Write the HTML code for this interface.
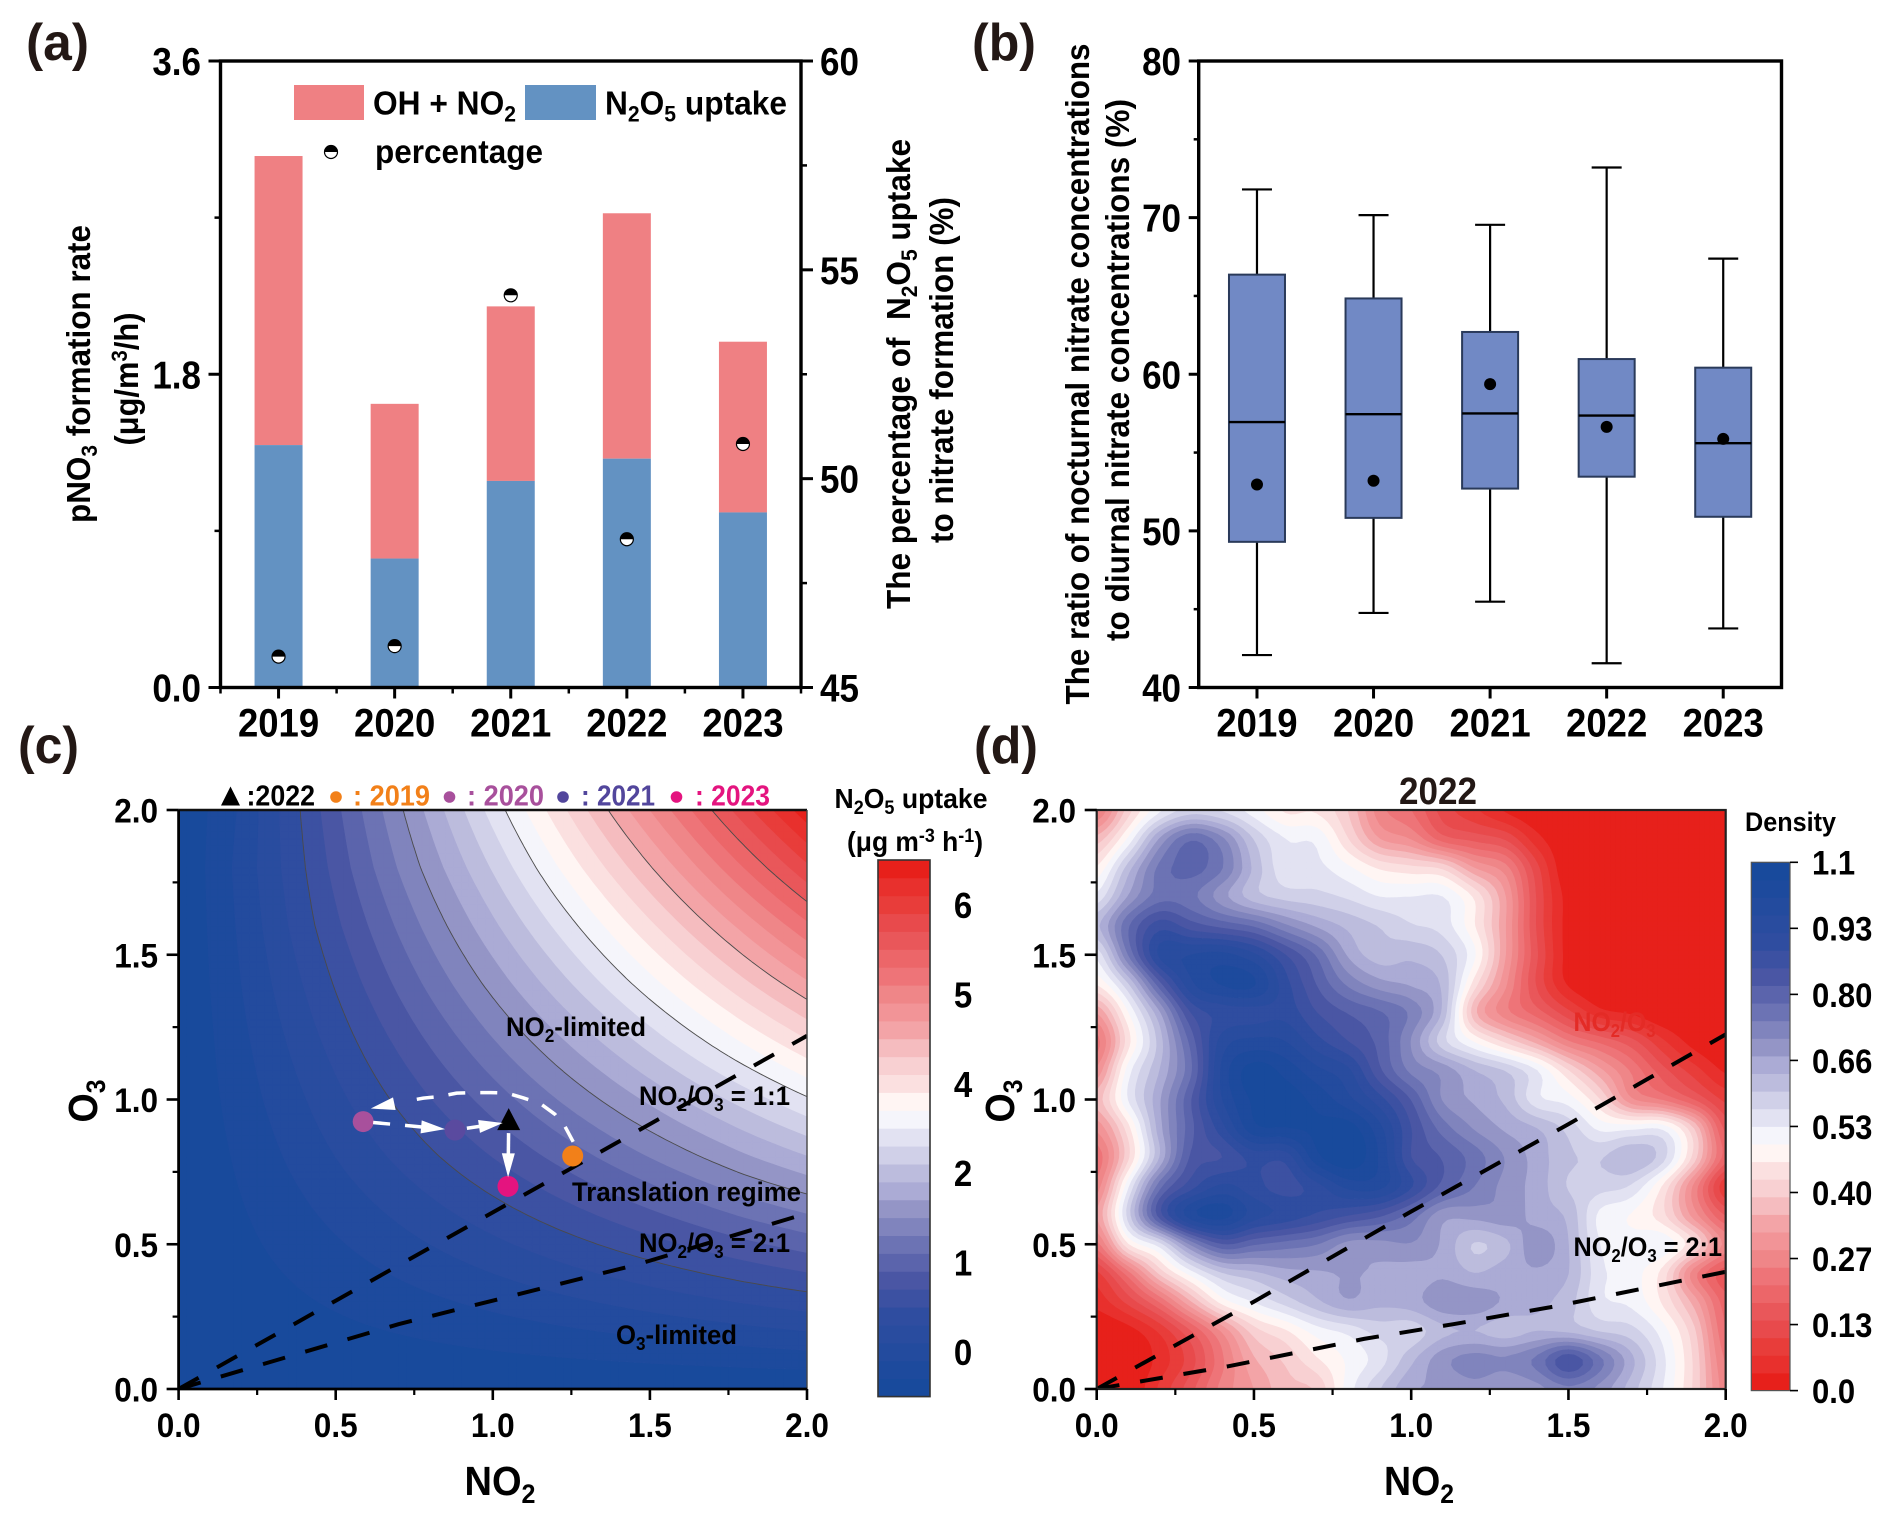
<!DOCTYPE html>
<html lang="en">
<head>
<meta charset="utf-8">
<title>Nitrate formation figure</title>
<style>
  html,body{margin:0;padding:0;background:#fff;}
  svg{display:block;font-family:"Liberation Sans",Arial,sans-serif;font-weight:700;}
</style>
</head>
<body>
<svg id="figure" xmlns="http://www.w3.org/2000/svg" width="1892" height="1523" viewBox="0 0 1892 1523">
  <defs>
    <clipPath id="clip-c"><rect x="178.6" y="810" width="628.4" height="579"/></clipPath>
    <clipPath id="clip-d"><rect x="1096.7" y="810" width="629" height="579"/></clipPath>
  </defs>
  <rect x="0" y="0" width="1892" height="1523" fill="#fff"/>

  <g id="panel-a">
    <g id="a-marks"></g>
    <g id="a-axes"></g>
    <text x="26" y="60" font-size="52" fill="#231815" textLength="63" lengthAdjust="spacingAndGlyphs">(a)</text>
    <rect x="294" y="85" width="70" height="35" fill="#ef8083"/>
    <text x="373" y="114.5" font-size="33" textLength="143" lengthAdjust="spacingAndGlyphs">OH + NO<tspan dy="7" font-size="22">2</tspan></text>
    <rect x="525" y="85" width="71" height="35" fill="#6392c2"/>
    <text x="605" y="114.5" font-size="33" textLength="182" lengthAdjust="spacingAndGlyphs">N<tspan dy="7" font-size="22">2</tspan><tspan dy="-7">O</tspan><tspan dy="7" font-size="22">5</tspan><tspan dy="-7"> uptake</tspan></text>
    <circle cx="331" cy="152" r="6.5" fill="#fff" stroke="#000" stroke-width="1.2"/>
    <path d="M324.5 152A6.5 6.5 0 0 1 337.5 152Z" fill="#000"/>
    <text x="375" y="163" font-size="33" textLength="168" lengthAdjust="spacingAndGlyphs">percentage</text>
    <text transform="translate(90,374) rotate(-90)" text-anchor="middle" font-size="33" textLength="298" lengthAdjust="spacingAndGlyphs">pNO<tspan dy="7" font-size="22">3</tspan><tspan dy="-7"> formation rate</tspan></text>
    <text transform="translate(138,379) rotate(-90)" text-anchor="middle" font-size="33" textLength="133" lengthAdjust="spacingAndGlyphs">(μg/m<tspan dy="-11" font-size="22">3</tspan><tspan dy="11">/h)</tspan></text>
    <text transform="translate(910,374) rotate(-90)" text-anchor="middle" font-size="33" textLength="470" lengthAdjust="spacingAndGlyphs">The percentage of &#160;N<tspan dy="7" font-size="22">2</tspan><tspan dy="-7">O</tspan><tspan dy="7" font-size="22">5</tspan><tspan dy="-7"> uptake</tspan></text>
    <text transform="translate(953,370) rotate(-90)" text-anchor="middle" font-size="33" textLength="346" lengthAdjust="spacingAndGlyphs">to nitrate formation (%)</text>
  </g>

  <g id="panel-b">
    <g id="b-marks"></g>
    <g id="b-axes"></g>
    <text x="972" y="60" font-size="52" fill="#231815" textLength="64" lengthAdjust="spacingAndGlyphs">(b)</text>
    <text transform="translate(1089,374) rotate(-90)" text-anchor="middle" font-size="33" textLength="661" lengthAdjust="spacingAndGlyphs">The ratio of nocturnal nitrate concentrations</text>
    <text transform="translate(1129,370) rotate(-90)" text-anchor="middle" font-size="33" textLength="542" lengthAdjust="spacingAndGlyphs">to diurnal nitrate concentrations (%)</text>
  </g>

  <g id="panel-c">
    <g id="c-heat" clip-path="url(#clip-c)"></g>
    <g id="c-lines" clip-path="url(#clip-c)"></g>
    <g id="c-axes"></g>
    <g id="c-cbar"></g>
    <g id="c-points"></g>
    <text x="18" y="763" font-size="52" fill="#231815" textLength="61" lengthAdjust="spacingAndGlyphs">(c)</text>
    <polygon points="221,805.5 240,805.5 230.5,786.5" fill="#000"/>
    <text x="246.5" y="805.5" font-size="29" textLength="68.5" lengthAdjust="spacingAndGlyphs">:2022</text>
    <circle cx="336" cy="797" r="5.8" fill="#f28019"/>
    <text x="353" y="805.5" font-size="29" fill="#f28019" textLength="77" lengthAdjust="spacingAndGlyphs">: 2019</text>
    <circle cx="449.5" cy="797" r="5.8" fill="#a8509c"/>
    <text x="467" y="805.5" font-size="29" fill="#a8509c" textLength="77" lengthAdjust="spacingAndGlyphs">: 2020</text>
    <circle cx="563" cy="797" r="5.8" fill="#52469c"/>
    <text x="581" y="805.5" font-size="29" fill="#52469c" textLength="74" lengthAdjust="spacingAndGlyphs">: 2021</text>
    <circle cx="676.5" cy="797" r="5.8" fill="#e4147f"/>
    <text x="695" y="805.5" font-size="29" fill="#e4147f" textLength="75" lengthAdjust="spacingAndGlyphs">: 2023</text>
    <text x="506" y="1036" font-size="27" textLength="140" lengthAdjust="spacingAndGlyphs">NO<tspan dy="6" font-size="18">2</tspan><tspan dy="-6">-limited</tspan></text>
    <text x="639" y="1105" font-size="27" textLength="151" lengthAdjust="spacingAndGlyphs">NO<tspan dy="6" font-size="18">2</tspan><tspan dy="-6">/O</tspan><tspan dy="6" font-size="18">3</tspan><tspan dy="-6"> = 1:1</tspan></text>
    <text x="572" y="1201" font-size="27" textLength="229" lengthAdjust="spacingAndGlyphs">Translation regime</text>
    <text x="639" y="1252" font-size="27" textLength="151" lengthAdjust="spacingAndGlyphs">NO<tspan dy="6" font-size="18">2</tspan><tspan dy="-6">/O</tspan><tspan dy="6" font-size="18">3</tspan><tspan dy="-6"> = 2:1</tspan></text>
    <text x="616" y="1344" font-size="27" textLength="121" lengthAdjust="spacingAndGlyphs">O<tspan dy="6" font-size="18">3</tspan><tspan dy="-6">-limited</tspan></text>
    <text x="911" y="808" text-anchor="middle" font-size="28" textLength="153" lengthAdjust="spacingAndGlyphs">N<tspan dy="6" font-size="19">2</tspan><tspan dy="-6">O</tspan><tspan dy="6" font-size="19">5</tspan><tspan dy="-6"> uptake</tspan></text>
    <text x="915" y="851" text-anchor="middle" font-size="28" textLength="136" lengthAdjust="spacingAndGlyphs">(μg m<tspan dy="-9" font-size="19">-3</tspan><tspan dy="9"> h</tspan><tspan dy="-9" font-size="19">-1</tspan><tspan dy="9">)</tspan></text>
    <text x="500" y="1495" text-anchor="middle" font-size="41" textLength="71" lengthAdjust="spacingAndGlyphs">NO<tspan dy="8" font-size="27">2</tspan></text>
    <text transform="translate(97,1101) rotate(-90)" text-anchor="middle" font-size="41" textLength="43" lengthAdjust="spacingAndGlyphs">O<tspan dy="8" font-size="27">3</tspan></text>
  </g>

  <g id="panel-d">
    <g id="d-heat" clip-path="url(#clip-d)"></g>
    <text x="1573.5" y="1031" font-size="27" fill="#e42b26" textLength="82" lengthAdjust="spacingAndGlyphs">NO<tspan dy="6" font-size="18">2</tspan><tspan dy="-6">/O</tspan><tspan dy="6" font-size="18">3</tspan></text>
    <g id="d-lines" clip-path="url(#clip-d)"></g>
    <g id="d-axes"></g>
    <g id="d-cbar"></g>
    <text x="974" y="763" font-size="52" fill="#231815" textLength="64" lengthAdjust="spacingAndGlyphs">(d)</text>
    <text x="1438" y="804" text-anchor="middle" font-size="38" fill="#231815" textLength="78" lengthAdjust="spacingAndGlyphs">2022</text>
    <text x="1573.5" y="1256" font-size="27" textLength="148.5" lengthAdjust="spacingAndGlyphs">NO<tspan dy="6" font-size="18">2</tspan><tspan dy="-6">/O</tspan><tspan dy="6" font-size="18">3</tspan><tspan dy="-6"> = 2:1</tspan></text>
    <text x="1745" y="831" font-size="27" textLength="91" lengthAdjust="spacingAndGlyphs">Density</text>
    <text x="1419" y="1495" text-anchor="middle" font-size="41" textLength="70" lengthAdjust="spacingAndGlyphs">NO<tspan dy="8" font-size="27">2</tspan></text>
    <text transform="translate(1014,1101) rotate(-90)" text-anchor="middle" font-size="41" textLength="43" lengthAdjust="spacingAndGlyphs">O<tspan dy="8" font-size="27">3</tspan></text>
  </g>
</svg>

<script>
/* ---------- panel a data ---------- */
var years = ['2019','2020','2021','2022','2023'];
var n2o5Uptake = [1.393,0.741,1.187,1.315,1.006];
var ohNo2 = [1.661,0.889,1.003,1.410,0.981];
var percentage = [45.74,45.99,54.39,48.55,50.83];
var aLeftTicks = [0,1.8,3.6];
var aLeftMinor = [0.9,2.7];
var aRightTicks = [45,50,55,60];
var aRightMinor = [47.5,52.5,57.5];

/* ---------- panel b data ---------- */
var boxHigh = [71.8,70.16,69.54,73.2,67.38];
var boxQ3 = [66.36,64.84,62.7,60.97,60.42];
var boxMedian = [56.95,57.45,57.5,57.36,55.6];
var boxQ1 = [49.3,50.83,52.7,53.46,50.9];
var boxLow = [42.07,44.76,45.48,41.55,43.77];
var boxMean = [52.96,53.2,59.37,56.64,55.87];
var bTicks = [40,50,60,70,80];
var bMinor = [45,55,65,75];

/* ---------- panels c / d shared ---------- */
var no2Ticks = [0,0.5,1,1.5,2];
var no2TickLabels = ['0.0','0.5','1.0','1.5','2.0'];
var minorTicks = [0.25,0.75,1.25,1.75];
var ratio1X = [0,0.5,1,1.5,2];
var ratio1Y = [0,0.305,0.61,0.915,1.22];
var ratio2X = [0,0.7,1.46,2];
var ratio2Y = [0,0.224,0.43,0.607];
var ratio1DY = [0,0.302,0.613,0.915,1.225];
var ratio2DX = [0,0.416,0.7,0.85,1.134,1.455,2];
var ratio2DY = [0,0.078,0.14,0.173,0.224,0.285,0.405];

/* colour bands, low end of the colorbar in panel c to high end */
var bandColors = ['#184a9c','#1d4a9d','#234b9e','#294c9f','#2f4da0','#3c51a2','#4a56a4','#5b64ac','#6c73b4','#8084bd','#9495c6','#ababd5','#bcbcdd','#d0d0e8','#e2e2f2','#f5f5fb','#fff5f3','#fbe0e0','#f8d0d2','#f5bcbf','#f3a4a7','#f29497','#ef8688','#ee7478','#ec6669','#e9575a','#e84a4c','#e83d3a','#e8302d','#e7201b'];

/* panel c: N2O5 uptake read on the colorbar scale; rows O3 = 2.0 down to 0.0, columns NO2 = 0.0 to 2.0 */
var uptakeGrid = [
[-0.5,-0.07,0.54,1.15,1.76,2.38,2.99,3.6,4.2,4.82,5.43],
[-0.5,-0.03,0.49,1.04,1.58,2.12,2.67,3.21,3.75,4.3,4.85],
[-0.5,-0.06,0.42,0.89,1.37,1.85,2.33,2.81,3.29,3.77,4.25],
[-0.5,-0.1,0.31,0.73,1.15,1.57,1.99,2.41,2.83,3.25,3.66],
[-0.5,-0.15,0.2,0.56,0.92,1.28,1.64,2,2.36,2.72,3.07],
[-0.5,-0.2,0.09,0.39,0.69,0.99,1.29,1.59,1.89,2.18,2.47],
[-0.5,-0.26,-0.02,0.22,0.46,0.7,0.94,1.18,1.42,1.66,1.88],
[-0.5,-0.32,-0.14,0.04,0.22,0.4,0.58,0.76,0.94,1.12,1.28],
[-0.5,-0.38,-0.26,-0.14,-0.02,0.1,0.22,0.34,0.46,0.58,0.69],
[-0.5,-0.44,-0.38,-0.32,-0.26,-0.2,-0.14,-0.08,-0.02,0.04,0.1],
[-0.5,-0.5,-0.5,-0.5,-0.5,-0.5,-0.5,-0.5,-0.5,-0.5,-0.5]
];
var uptakeContours = [0.5,1.5,2.5,3.5,4.5];
var uptakeBarTicks = [0,1,2,3,4,5];
var uptakeBarLabels = ['0','1','2','4','5','6'];

/* panel d: density; rows O3 = 2.0 down to 0.0 by 0.1, columns NO2 = 0.0 to 2.0 by 0.1 */
var densityGrid = [
[.25,.42,.54,.60,.58,.53,.47,.47,.40,.27,.22,.13,.08,.03,0,0,0,0,0,0,0],
[.38,.52,.70,.80,.74,.62,.55,.54,.44,.33,.29,.20,.17,.14,.05,0,0,0,0,0,0],
[.48,.64,.78,.82,.77,.65,.56,.56,.52,.47,.45,.43,.33,.27,.12,0,0,0,0,0,0],
[.56,.70,.79,.78,.71,.64,.61,.60,.58,.55,.55,.55,.47,.33,.14,.02,0,0,0,0,0],
[.65,.80,.90,.86,.83,.80,.74,.69,.65,.62,.59,.57,.48,.33,.14,.02,0,0,0,0,0],
[.56,.77,.96,.99,1.0,.96,.88,.80,.69,.64,.65,.62,.52,.33,.15,.02,0,0,0,0,0],
[.48,.62,.83,.98,1.03,1.03,.93,.84,.76,.71,.69,.65,.46,.30,.14,.03,0,0,0,0,0],
[.33,.51,.69,.88,.93,.94,.94,.88,.84,.81,.76,.65,.38,.27,.20,.12,.05,.03,0,0,0],
[.24,.46,.64,.82,.97,1.0,.99,.93,.88,.83,.73,.60,.51,.43,.35,.26,.21,.16,.08,.02,0],
[.30,.53,.66,.80,1.0,1.08,1.05,1.0,.96,.85,.76,.72,.66,.62,.55,.44,.34,.25,.16,.09,.03],
[.38,.55,.69,.84,.99,1.07,1.08,1.05,1.0,.93,.84,.73,.69,.65,.56,.53,.44,.30,.25,.18,.10],
[.30,.46,.68,.83,.94,1.05,1.06,1.07,1.08,1.0,.88,.79,.73,.69,.66,.61,.54,.54,.54,.40,.17],
[.23,.43,.66,.85,.88,.93,.93,1.05,1.09,1.02,.88,.84,.79,.73,.68,.63,.62,.655,.60,.42,.20],
[.27,.54,.79,.90,.96,.93,.90,.94,1.0,1.0,.92,.83,.77,.72,.68,.62,.60,.58,.47,.28,.08],
[.33,.60,.86,1.01,1.04,.97,.94,.91,.88,.85,.79,.71,.71,.72,.68,.65,.54,.51,.45,.31,.18],
[.24,.47,.57,.74,.84,.81,.79,.77,.72,.72,.73,.69,.62,.65,.72,.66,.55,.53,.54,.44,.28],
[.10,.24,.41,.53,.62,.65,.68,.69,.70,.69,.68,.69,.66,.68,.69,.66,.56,.53,.46,.27,.16],
[.05,.12,.22,.36,.49,.55,.60,.65,.69,.67,.68,.72,.72,.69,.67,.64,.56,.54,.47,.35,.20],
[0,.02,.08,.18,.30,.42,.47,.53,.56,.60,.60,.65,.66,.64,.66,.65,.62,.60,.53,.41,.22],
[0,0,.05,.13,.25,.36,.41,.47,.52,.57,.65,.72,.75,.74,.78,.87,.78,.67,.56,.43,.25],
[0,0,.08,.17,.27,.33,.39,.41,.53,.62,.69,.70,.72,.70,.72,.76,.72,.64,.55,.43,.27]
];
var densityBarTicks = [0,0.1375,0.275,0.4125,0.55,0.6875,0.825,0.9625,1.1];
var densityBarLabels = ['0.0','0.13','0.27','0.40','0.53','0.66','0.80','0.93','1.1'];

/* panel c year points */
var pointYears = ['2019','2020','2021','2022','2023'];
var pointNo2 = [1.2543,0.5875,0.8797,1.0506,1.0483];
var pointO3 = [0.805,0.9237,0.8946,0.922,0.7];
var pointColors = ['#f28019','#a8509c','#5a4a9f','#000000','#e4147f'];
var curveNo2 = [1.256,1.23,1.198,1.15,1.096,1.045,0.993,0.938,0.885,0.83,0.779,0.72];
var curveO3 = [0.854,0.906,0.949,0.987,1.006,1.022,1.024,1.024,1.022,1.01,1.005,0.993];

var SVGNS = 'http://www.w3.org/2000/svg';

function make(parent, tag, attrs) {
  var el = document.createElementNS(SVGNS, tag);
  for (var k in attrs) { el.setAttribute(k, attrs[k]); }
  parent.appendChild(el);
  return el;
}
function linear(d0, d1, r0, r1) {
  return function (v) { return r0 + (v - d0) / (d1 - d0) * (r1 - r0); };
}
function addTick(g, x1, y1, x2, y2, w) {
  var t = make(g, 'line', {x1: x1, y1: y1, x2: x2, y2: y2, stroke: '#000', 'stroke-width': w});
  
  
  return t;
}
function addLabel(g, x, yc, str, size, anchor) {
  var t = make(g, 'text', {x: x, y: yc + size * 0.4, 'font-size': size, 'text-anchor': anchor});
  t.textContent = str;
  var natural = t.getComputedTextLength();
  t.setAttribute('font-size', size * 1.1);
  t.setAttribute('textLength', natural);
  t.setAttribute('lengthAdjust', 'spacingAndGlyphs');
  
  
  return t;
}
function addFrame(g, x, y, w, h, sw) {
  var r = make(g, 'rect', {x: x, y: y, width: w, height: h, fill: 'none', stroke: '#000', 'stroke-width': sw});
  
  
  return r;
}

/* ---------- panel a ---------- */
(function () {
  var L = 220.5, R = 801, T = 61, B = 687.5;
  var step = (R - L) / years.length;
  function cx(i) { return L + (i + 0.5) * step; }
  var yLeft = linear(0, 3.6, B, T);
  var yRight = linear(45, 60, B, T);
  var marks = document.getElementById('a-marks');
  var axes = document.getElementById('a-axes');
  var barW = 48;
  years.forEach(function (yr, i) {
    var top = n2o5Uptake[i] + ohNo2[i];
    var pink = make(marks, 'rect', {x: cx(i) - barW / 2, y: yLeft(top), width: barW, height: yLeft(n2o5Uptake[i]) - yLeft(top), fill: '#ef8083'});
    
    
    var blue = make(marks, 'rect', {x: cx(i) - barW / 2, y: yLeft(n2o5Uptake[i]), width: barW, height: B - yLeft(n2o5Uptake[i]), fill: '#6392c2'});
    
    
  });
  years.forEach(function (yr, i) {
    var py = yRight(percentage[i]), r = 6.5;
    var c = make(marks, 'circle', {cx: cx(i), cy: py, r: r, fill: '#fff', stroke: '#000', 'stroke-width': 1.2});
    
    
    var h = make(marks, 'path', {d: 'M' + (cx(i) - r) + ' ' + py + 'A' + r + ' ' + r + ' 0 0 1 ' + (cx(i) + r) + ' ' + py + 'Z', fill: '#000'});
    
    
  });
  addFrame(axes, L, T, R - L, B - T, 3.4);
  aLeftTicks.forEach(function (v) {
    addTick(axes, L - 12, yLeft(v), L, yLeft(v), 3);
    addLabel(axes, 201, yLeft(v), v.toFixed(1), 35, 'end');
  });
  aLeftMinor.forEach(function (v) { addTick(axes, L - 6, yLeft(v), L, yLeft(v), 2.5); });
  aRightTicks.forEach(function (v) {
    addTick(axes, R, yRight(v), R + 12, yRight(v), 3);
    addLabel(axes, 820, yRight(v), String(v), 35, 'start');
  });
  aRightMinor.forEach(function (v) { addTick(axes, R, yRight(v), R + 6, yRight(v), 2.5); });
  years.forEach(function (yr, i) {
    addTick(axes, cx(i), B, cx(i), B + 11, 3);
    addLabel(axes, cx(i), 722, yr, 36.5, 'middle');
  });
  for (var k = 0; k <= years.length; k++) { addTick(axes, L + k * step, B, L + k * step, B + 6, 2.5); }
})();

/* ---------- panel b ---------- */
(function () {
  var L = 1198.7, R = 1781.5, T = 61, B = 687.5;
  var step = (R - L) / years.length;
  function cx(i) { return L + (i + 0.5) * step; }
  var y = linear(40, 80, B, T);
  var marks = document.getElementById('b-marks');
  var axes = document.getElementById('b-axes');
  years.forEach(function (yr, i) {
    var x = cx(i);
    var w = make(marks, 'line', {x1: x, y1: y(boxHigh[i]), x2: x, y2: y(boxLow[i]), stroke: '#000', 'stroke-width': 2.2});
    
    
    var capH = make(marks, 'line', {x1: x - 15, y1: y(boxHigh[i]), x2: x + 15, y2: y(boxHigh[i]), stroke: '#000', 'stroke-width': 2.2});
    
    
    var capL = make(marks, 'line', {x1: x - 15, y1: y(boxLow[i]), x2: x + 15, y2: y(boxLow[i]), stroke: '#000', 'stroke-width': 2.2});
    
    
    var box = make(marks, 'rect', {x: x - 28, y: y(boxQ3[i]), width: 56, height: y(boxQ1[i]) - y(boxQ3[i]), fill: '#7189c5', stroke: '#2a3a5a', 'stroke-width': 2});
    
    
    var med = make(marks, 'line', {x1: x - 28, y1: y(boxMedian[i]), x2: x + 28, y2: y(boxMedian[i]), stroke: '#000', 'stroke-width': 2.4});
    
    
    var mean = make(marks, 'circle', {cx: x, cy: y(boxMean[i]), r: 6, fill: '#000'});
    
    
  });
  addFrame(axes, L, T, R - L, B - T, 3.4);
  bTicks.forEach(function (v) {
    addTick(axes, L - 10, y(v), L, y(v), 3);
    addLabel(axes, 1181, y(v), String(v), 35, 'end');
  });
  bMinor.forEach(function (v) { addTick(axes, L - 5, y(v), L, y(v), 2.5); });
  years.forEach(function (yr, i) {
    addTick(axes, cx(i), B, cx(i), B + 11, 3);
    addLabel(axes, cx(i), 722, yr, 36.5, 'middle');
  });
})();

/* ---------- contour machinery ---------- */
function clipPoly(p, lv, above) {
  var out = [];
  for (var k = 0; k < p.length; k++) {
    var a = p[k], b = p[(k + 1) % p.length];
    var ina = above ? a.v >= lv : a.v <= lv;
    var inb = above ? b.v >= lv : b.v <= lv;
    if (ina) { out.push(a); }
    if (ina !== inb) {
      var t = (lv - a.v) / (b.v - a.v);
      out.push({x: a.x + t * (b.x - a.x), y: a.y + t * (b.y - a.y), v: lv});
    }
  }
  return out;
}
function cubic(a, b, c, d, t) {
  return b + 0.5 * t * (c - a + t * (2 * a - 5 * b + 4 * c - d + t * (3 * (b - c) + d - a)));
}
/* bilinear lookup for smooth=false, Catmull-Rom lookup for smooth=true */
function sampler(grid, up, smooth) {
  var rows = grid.length - 1, cols = grid[0].length - 1;
  function at(j, i) {
    return grid[Math.max(0, Math.min(rows, j))][Math.max(0, Math.min(cols, i))];
  }
  return function (fi, fj) {
    var gx = fi / up, gy = fj / up;
    var i = Math.min(Math.floor(gx), cols - 1), j = Math.min(Math.floor(gy), rows - 1);
    var u = gx - i, w = gy - j;
    if (!smooth) {
      return (at(j, i) * (1 - u) + at(j, i + 1) * u) * (1 - w) + (at(j + 1, i) * (1 - u) + at(j + 1, i + 1) * u) * w;
    }
    var r = [];
    for (var m = -1; m <= 2; m++) {
      r.push(cubic(at(j + m, i - 1), at(j + m, i), at(j + m, i + 1), at(j + m, i + 2), u));
    }
    return cubic(r[0], r[1], r[2], r[3], w);
  };
}
function polyToPath(poly, sx, sy) {
  var s = '';
  for (var k = 0; k < poly.length; k++) {
    s += (k ? 'L' : 'M') + sx(poly[k].x).toFixed(1) + ' ' + sy(poly[k].y).toFixed(1);
  }
  return s + 'Z';
}
function bandPaths(grid, up, smooth, v0, v1, nBands, sx, sy) {
  var rows = (grid.length - 1) * up, cols = (grid[0].length - 1) * up;
  var val = sampler(grid, up, smooth);
  var step = (v1 - v0) / nBands;
  var paths = [];
  for (var b = 0; b < nBands; b++) { paths.push(''); }
  function bandOf(v) { return Math.max(0, Math.min(nBands - 1, Math.floor((v - v0) / step))); }
  for (var j = 0; j < rows; j++) {
    for (var i = 0; i < cols; i++) {
      var q = [
        {x: i / cols, y: j / rows, v: val(i, j)},
        {x: (i + 1) / cols, y: j / rows, v: val(i + 1, j)},
        {x: (i + 1) / cols, y: (j + 1) / rows, v: val(i + 1, j + 1)},
        {x: i / cols, y: (j + 1) / rows, v: val(i, j + 1)}
      ];
      var lo = Infinity, hi = -Infinity;
      q.forEach(function (c) { lo = Math.min(lo, c.v); hi = Math.max(hi, c.v); });
      var b0 = bandOf(lo), b1 = bandOf(hi);
      for (var bb = b0; bb <= b1; bb++) {
        var poly = q;
        if (b0 !== b1) {
          if (bb > 0) { poly = clipPoly(poly, v0 + bb * step, true); }
          if (poly.length && bb < nBands - 1) { poly = clipPoly(poly, v0 + (bb + 1) * step, false); }
        }
        if (poly.length > 2) { paths[bb] += polyToPath(poly, sx, sy); }
      }
    }
  }
  return paths;
}
function contourPath(grid, up, level, sx, sy) {
  var rows = (grid.length - 1) * up, cols = (grid[0].length - 1) * up;
  var val = sampler(grid, up, false);
  var d = '';
  function tri(a, b, c) {
    var pts = [];
    [[a, b], [b, c], [c, a]].forEach(function (e) {
      var p = e[0], r = e[1];
      if ((p.v < level) !== (r.v < level)) {
        var t = (level - p.v) / (r.v - p.v);
        pts.push({x: p.x + t * (r.x - p.x), y: p.y + t * (r.y - p.y)});
      }
    });
    if (pts.length === 2) {
      d += 'M' + sx(pts[0].x).toFixed(1) + ' ' + sy(pts[0].y).toFixed(1) + 'L' + sx(pts[1].x).toFixed(1) + ' ' + sy(pts[1].y).toFixed(1);
    }
  }
  for (var j = 0; j < rows; j++) {
    for (var i = 0; i < cols; i++) {
      var A = {x: i / cols, y: j / rows, v: val(i, j)};
      var B = {x: (i + 1) / cols, y: j / rows, v: val(i + 1, j)};
      var C = {x: (i + 1) / cols, y: (j + 1) / rows, v: val(i + 1, j + 1)};
      var D = {x: i / cols, y: (j + 1) / rows, v: val(i, j + 1)};
      tri(A, B, C);
      tri(A, C, D);
    }
  }
  return d;
}
function drawDashed(g, xs, ys, sx, sy, name) {
  var d = '';
  xs.forEach(function (x, i) { d += (i ? 'L' : 'M') + sx(x).toFixed(1) + ' ' + sy(ys[i]).toFixed(1); });
  var p = make(g, 'path', {d: d, fill: 'none', stroke: '#000', 'stroke-width': 4, 'stroke-dasharray': '23 21'});
  
  
}
function drawSquareAxes(axes, L, R, T, B, sx, sy, yRight) {
  no2Ticks.forEach(function (v, i) {
    addTick(axes, sx(v), B, sx(v), B + 11, 2.6);
    addLabel(axes, sx(v), 1424.5, no2TickLabels[i], 31.5, 'middle');
    addTick(axes, L - 12, sy(v), L, sy(v), 2.6);
    addLabel(axes, yRight, sy(v), no2TickLabels[i], 31.5, 'end');
  });
  minorTicks.forEach(function (v) {
    addTick(axes, sx(v), B, sx(v), B + 6, 2.2);
    addTick(axes, L - 6, sy(v), L, sy(v), 2.2);
  });
}

/* ---------- panel c ---------- */
(function () {
  var L = 178.6, R = 807, T = 810, B = 1389;
  var sx = linear(0, 2, L, R), sy = linear(0, 2, B, T);
  var fx = function (f) { return L + f * (R - L); };
  var fy = function (f) { return T + f * (B - T); };
  var heat = document.getElementById('c-heat');
  var paths = bandPaths(uptakeGrid, 8, false, -0.5, 5.5, 30, fx, fy);
  paths.forEach(function (d, b) {
    var p = make(heat, 'path', {d: d, fill: bandColors[b], stroke: bandColors[b], 'stroke-width': 0.6});
    
    
  });
  uptakeContours.forEach(function (lv) {
    var c = make(heat, 'path', {d: contourPath(uptakeGrid, 8, lv, fx, fy), fill: 'none', stroke: '#4a4a4a', 'stroke-width': 0.9});
    
    
  });
  var lines = document.getElementById('c-lines');
  drawDashed(lines, ratio1X, ratio1Y, sx, sy, 'ratio-line-1-1');
  drawDashed(lines, ratio2X, ratio2Y, sx, sy, 'ratio-line-2-1');

  var axes = document.getElementById('c-axes');
  var top = make(axes, 'line', {x1: L, y1: T, x2: R, y2: T, stroke: '#111', 'stroke-width': 2.4});
  
  
  var right = make(axes, 'line', {x1: R, y1: T, x2: R, y2: B, stroke: '#444', 'stroke-width': 1.4});
  
  
  var left = make(axes, 'line', {x1: L, y1: T, x2: L, y2: B + 1.5, stroke: '#000', 'stroke-width': 2.8});
  
  
  var bottom = make(axes, 'line', {x1: L, y1: B, x2: R, y2: B, stroke: '#000', 'stroke-width': 2.8});
  
  
  drawSquareAxes(axes, L, R, T, B, sx, sy, 158);

  /* colour bar */
  var bar = document.getElementById('c-cbar');
  var barX = 878, barW = 52, barTop = 860, barBottom = 1396.6;
  var by = linear(-0.5, 5.5, barBottom, barTop);
  bandColors.forEach(function (col, b) {
    var v = -0.5 + b * 0.2;
    var r = make(bar, 'rect', {x: barX, y: by(v + 0.2), width: barW, height: by(v) - by(v + 0.2) + 0.4, fill: col});
    
    
  });
  var bf = make(bar, 'rect', {x: barX, y: barTop, width: barW, height: barBottom - barTop, fill: 'none', stroke: '#333', 'stroke-width': 1.6});
  
  
  uptakeBarTicks.forEach(function (v, i) {
    addLabel(bar, 963, by(v), uptakeBarLabels[i], 33, 'middle');
  });

  /* year points and arrows */
  var pts = document.getElementById('c-points');
  function head(tipX, tipY, fromX, fromY, len, wid) {
    var dx = tipX - fromX, dy = tipY - fromY, m = Math.sqrt(dx * dx + dy * dy);
    var ux = dx / m, uy = dy / m;
    var bx = tipX - ux * len, by2 = tipY - uy * len;
    var p = make(pts, 'polygon', {points: tipX + ',' + tipY + ' ' + (bx - uy * wid / 2) + ',' + (by2 + ux * wid / 2) + ' ' + (bx + uy * wid / 2) + ',' + (by2 - ux * wid / 2), fill: '#fff'});
    
    
  }
  function arrow(a, b, gap0, gap1, dashed) {
    var x0 = sx(pointNo2[a]), y0 = sy(pointO3[a]), x1 = sx(pointNo2[b]), y1 = sy(pointO3[b]);
    var dx = x1 - x0, dy = y1 - y0, m = Math.sqrt(dx * dx + dy * dy), ux = dx / m, uy = dy / m;
    var sX = x0 + ux * gap0, sY = y0 + uy * gap0, tX = x1 - ux * gap1, tY = y1 - uy * gap1;
    var l = make(pts, 'line', {x1: sX, y1: sY, x2: tX - ux * 20, y2: tY - uy * 20, stroke: '#fff', 'stroke-width': 3.5});
    if (dashed) { l.setAttribute('stroke-dasharray', '17 15'); }
    
    
    head(tX, tY, sX, sY, 24, 13);
  }
  var curveD = '';
  curveNo2.forEach(function (v, i) { curveD += (i ? 'L' : 'M') + sx(v).toFixed(1) + ' ' + sy(curveO3[i]).toFixed(1); });
  var curve = make(pts, 'path', {d: curveD, fill: 'none', stroke: '#fff', 'stroke-width': 3.5, 'stroke-dasharray': '17 15', 'stroke-linejoin': 'round'});
  
  
  var lastI = curveNo2.length - 1;
  head(sx(curveNo2[lastI]) - 34, sy(curveO3[lastI]) + 7, sx(curveNo2[lastI]), sy(curveO3[lastI]), 24, 13);
  pointYears.forEach(function (yr, i) {
    if (yr === '2022') {
      var x = sx(pointNo2[i]), y = sy(pointO3[i]);
      var tri = make(pts, 'polygon', {points: x + ',' + (y - 14) + ' ' + (x + 11.5) + ',' + (y + 8) + ' ' + (x - 11.5) + ',' + (y + 8), fill: pointColors[i]});
      
      
    } else {
      var c = make(pts, 'circle', {cx: sx(pointNo2[i]), cy: sy(pointO3[i]), r: 10.5, fill: pointColors[i]});
      
      
    }
  });
  arrow(1, 2, 10, 10, true);
  arrow(2, 3, 12, 6, false);
  arrow(3, 4, 11, 9, false);
})();

/* ---------- panel d ---------- */
(function () {
  var L = 1096.7, R = 1725.7, T = 810, B = 1389;
  var sx = linear(0, 2, L, R), sy = linear(0, 2, B, T);
  var fx = function (f) { return L + f * (R - L); };
  var fy = function (f) { return T + f * (B - T); };
  var heat = document.getElementById('d-heat');
  var paths = bandPaths(densityGrid, 6, true, 0, 1.1, 30, fx, fy);
  paths.forEach(function (d, b) {
    var col = bandColors[29 - b];
    var p = make(heat, 'path', {d: d, fill: col, stroke: col, 'stroke-width': 0.6});
    
    
  });
  var lines = document.getElementById('d-lines');
  drawDashed(lines, ratio1X, ratio1DY, sx, sy, 'ratio-line-1-1');
  drawDashed(lines, ratio2DX, ratio2DY, sx, sy, 'ratio-line-2-1');

  var axes = document.getElementById('d-axes');
  var frame = make(axes, 'rect', {x: L, y: T, width: R - L, height: B - T, fill: 'none', stroke: '#222', 'stroke-width': 2.2});
  
  
  drawSquareAxes(axes, L, R, T, B, sx, sy, 1076);

  var bar = document.getElementById('d-cbar');
  var barX = 1751.3, barW = 38.7, barTop = 862.3, barBottom = 1390.6;
  var by = linear(0, 1.1, barBottom, barTop);
  bandColors.forEach(function (col, b) {
    var v = b * 1.1 / 30;
    var r = make(bar, 'rect', {x: barX, y: by(v + 1.1 / 30), width: barW, height: by(v) - by(v + 1.1 / 30) + 0.4, fill: bandColors[29 - b]});
    
    
  });
  var bf = make(bar, 'rect', {x: barX, y: barTop, width: barW, height: barBottom - barTop, fill: 'none', stroke: '#555', 'stroke-width': 1.2});
  
  
  densityBarTicks.forEach(function (v, i) {
    addTick(bar, barX + barW, by(v), barX + barW + 8, by(v), 1.6);
    addLabel(bar, 1812, by(v), densityBarLabels[i], 31, 'start');
  });
})();
</script>
</body>
</html>
